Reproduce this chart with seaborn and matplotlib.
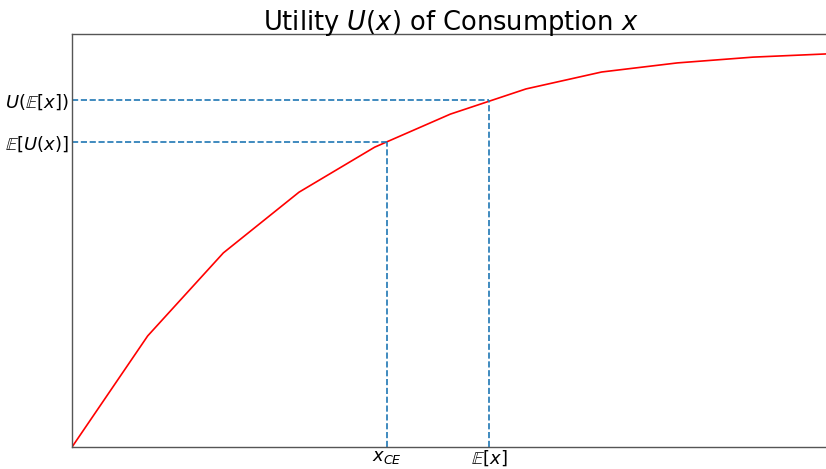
import numpy as np
import pandas as pd
import matplotlib
matplotlib.use("Agg")
import matplotlib.pyplot as plt
import seaborn as sns

# consumption grid and utility
consumption = [0, 1, 2, 3, 4, 5, 6, 7, 8, 9, 10]
utility = [0.0, 0.269, 0.470, 0.617, 0.726, 0.806, 0.867, 0.908, 0.930, 0.944, 0.952]

x_ce = 4.16
e_x = 5.51
e_u = 0.738
u_e = 0.840

x_tick_labels = [r"$x_{CE}$", r"$\mathbb{E}[x]$"]
y_tick_labels = [r"$\mathbb{E}[U(x)]$", r"$U(\mathbb{E}[x])$"]

sns.set_style("white")
plt.rcParams["mathtext.fontset"] = "dejavusans"
plt.rcParams["text.color"] = "black"
plt.rcParams["xtick.color"] = "black"
plt.rcParams["ytick.color"] = "black"

fig = plt.figure(figsize=(8.26, 4.69), dpi=100)
ax = fig.add_axes([0.0872, 0.0469, 0.916, 0.8806])

df = pd.DataFrame({"x": consumption, "U": utility})
sns.lineplot(data=df, x="x", y="U", color="red", linewidth=1.2, ax=ax)

ax.hlines([u_e, e_u], 0, [e_x, x_ce], colors="tab:blue", linestyles="--", linewidth=1.2)
ax.vlines([e_x, x_ce], 0, [u_e, e_u], colors="tab:blue", linestyles="--", linewidth=1.2)

ax.set_xlim(0, 10)
ax.set_ylim(0, 1)
ax.set_xticks([x_ce, e_x])
ax.set_xticklabels(x_tick_labels, fontsize=13)
ax.set_yticks([e_u, u_e])
ax.set_yticklabels(y_tick_labels, fontsize=13)
ax.tick_params(axis="x", length=0, pad=1)
ax.tick_params(axis="y", length=0, pad=2)
ax.set_xlabel("")
ax.set_ylabel("")
for s in ax.spines.values():
    s.set_color("#555555")
    s.set_linewidth(1.0)

ax.set_title(r"Utility $U(x)$ of Consumption $x$", fontsize=18.5, pad=3, color="black")

fig.savefig("out.png", dpi=100)
